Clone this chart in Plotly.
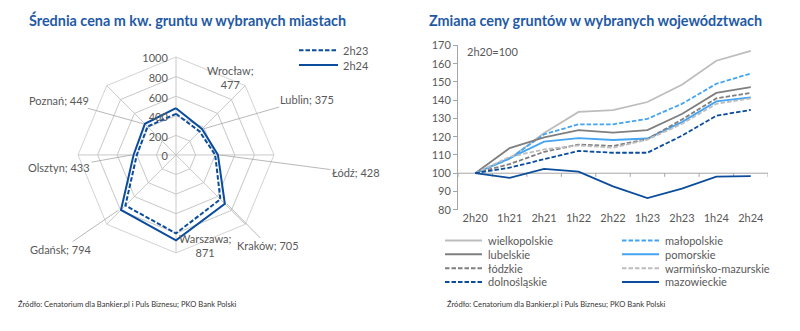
import math
import plotly.graph_objects as go

# ---------------- data ----------------
cities = ["Wrocław", "Lublin", "Łódź", "Kraków", "Warszawa", "Gdańsk", "Olsztyn", "Poznań"]
price_2h23 = [420, 340, 400, 640, 800, 730, 400, 410]
price_2h24 = [477, 375, 428, 705, 871, 794, 433, 449]
radial_ticks = [0, 200, 400, 600, 800, 1000]

periods = ["2h20", "1h21", "2h21", "1h22", "2h22", "1h23", "2h23", "1h24", "2h24"]
wielkopolskie = [100, 108, 122, 133.6, 134.5, 139, 148.5, 161.6, 167]
malopolskie = [100, 108, 121.3, 126.8, 126.8, 129.8, 138, 149, 154.6]
lubelskie = [100, 113.8, 119.6, 123.6, 122.2, 123.6, 132.4, 144, 147.2]
pomorskie = [100, 108.3, 117.3, 119.2, 118.2, 119, 128, 139.3, 141.5]
lodzkie = [100, 105, 111.7, 115.7, 114.9, 118.7, 129.4, 141, 144]
warminsko = [100, 109, 113, 115.2, 114, 118.4, 127, 138, 141]
dolnoslaskie = [100, 103, 107.7, 112.2, 111.2, 111.2, 120.5, 131.5, 134.7]
mazowieckie = [100, 97.4, 102.4, 100.9, 92.8, 86.4, 91.6, 98.1, 98.4]
y_ticks = [80, 90, 100, 110, 120, 130, 140, 150, 160, 170]

# ---------------- style ----------------
W, H = 800, 331
FONT = "Lato"
TXT = "#595959"
TITLE_C = "#1f5aa6"
DARKBLUE = "#0b4d9c"
LIGHTBLUE = "#44a4f2"
LGRAY = "#bdbdbd"
DGRAY = "#7f7f7f"
GRID = "#c8c8c8"
DASH = "4.5px,2px"

series = [
    ("wielkopolskie", wielkopolskie, LGRAY, "solid"),
    ("małopolskie", malopolskie, LIGHTBLUE, DASH),
    ("lubelskie", lubelskie, DGRAY, "solid"),
    ("pomorskie", pomorskie, LIGHTBLUE, "solid"),
    ("łódzkie", lodzkie, DGRAY, DASH),
    ("warmińsko-mazurskie", warminsko, LGRAY, DASH),
    ("dolnośląskie", dolnoslaskie, DARKBLUE, DASH),
    ("mazowieckie", mazowieckie, DARKBLUE, "solid"),
]

fig = go.Figure()

# ---------------- radar ----------------
radar_series = [("2h23", price_2h23, DASH), ("2h24", price_2h24, "solid")]
for name, vals, dash in radar_series:
    fig.add_trace(go.Scatterpolar(
        r=vals + vals[:1], theta=cities + cities[:1], mode="lines", name=name,
        line=dict(color=DARKBLUE, width=2, dash=dash), showlegend=False,
        subplot="polar"))

CX, CY, R = 176, 154, 102  # polar centre / radius in px
fig.update_layout(polar=dict(
    domain=dict(x=[(CX - R) / W, (CX + R) / W], y=[1 - (CY + R) / H, 1 - (CY - R) / H]),
    bgcolor="rgba(0,0,0,0)",
    gridshape="linear",
    radialaxis=dict(range=[0, 1000], tickvals=radial_ticks, angle=90, side="counterclockwise",
                    showline=False, gridcolor=GRID, gridwidth=0.8, ticks="",
                    tickfont=dict(family=FONT, size=11, color=TXT)),
    angularaxis=dict(direction="clockwise", rotation=90, showticklabels=False, ticks="",
                     showline=True, linecolor=GRID, linewidth=0.8,
                     gridcolor=GRID, gridwidth=0.8),
))

# radar data labels (with leader lines toward the 2h24 points)
label_pos = {  # label text centre in px
    "Wrocław": (205, 57, False), "Lublin": (307, 97, True), "Łódź": (356, 172, True),
    "Kraków": (268, 247, True), "Warszawa": (177, 264, False), "Gdańsk": (61, 251, True),
    "Olsztyn": (59, 167, True), "Poznań": (59, 98, True),
}
annotations = []
shapes = []
for i, (c, v) in enumerate(zip(cities, price_2h24)):
    th = math.radians(i * 360 / len(cities))
    px = CX + v / 1000 * R * math.sin(th)
    py = CY - v / 1000 * R * math.cos(th)
    lx, ly, arrow = label_pos[c]
    text = f"{c};<br>{v}" if not arrow else f"{c}; {v}"
    if arrow:
        annotations.append(dict(x=px / W, y=1 - py / H, xref="paper", yref="paper",
                                text=text, showarrow=True, ax=lx - px, ay=ly - py,
                                arrowhead=0, arrowwidth=0.8, arrowcolor="#a6a6a6",
                                standoff=0, font=dict(family=FONT, size=11, color=TXT)))
    else:
        annotations.append(dict(x=lx / W, y=1 - ly / H, xref="paper", yref="paper",
                                text=text, showarrow=False, align="center",
                                font=dict(family=FONT, size=11, color=TXT)))

# radar legend
for k, (name, vals, dash) in enumerate(radar_series):
    yy = 45 + k * 15.5
    shapes.append(dict(type="line", xref="paper", yref="paper", x0=299 / W, x1=338 / W,
                       y0=1 - yy / H, y1=1 - yy / H, line=dict(color=DARKBLUE, width=2, dash=dash)))
    annotations.append(dict(x=341 / W, y=1 - yy / H, xref="paper", yref="paper", text=name,
                            showarrow=False, xanchor="left", yanchor="middle",
                            font=dict(family=FONT, size=11, color=TXT)))

# ---------------- line chart ----------------
for name, vals, color, dash in series:
    fig.add_trace(go.Scatter(x=periods, y=vals, mode="lines", name=name,
                             line=dict(color=color, width=1.8, dash=dash),
                             showlegend=False, xaxis="x", yaxis="y"))

fig.update_layout(
    xaxis=dict(domain=[458 / W, 768 / W], type="category", categoryarray=periods,
               range=[-0.5, len(periods) - 0.5], showline=False, showgrid=False,
               ticks="", tickfont=dict(family=FONT, size=11, color=TXT), zeroline=False,
               fixedrange=True),
    yaxis=dict(domain=[1 - 211 / H, 1 - 40 / H], range=[80, 170], tickvals=y_ticks,
               showgrid=False, showline=True, linecolor="#a6a6a6", linewidth=1,
               ticks="outside", ticklen=4, tickcolor="#a6a6a6", zeroline=False,
               tickfont=dict(family=FONT, size=11, color=TXT)),
)

# baseline at 100 with tick marks at category boundaries
shapes.append(dict(type="line", xref="x", yref="y", x0=-0.5, x1=len(periods) - 0.5,
                   y0=100, y1=100, line=dict(color="#a6a6a6", width=1), layer="below"))
for i in range(len(periods) + 1):
    shapes.append(dict(type="line", xref="x", yref="y", x0=i - 0.5, x1=i - 0.5,
                       y0=100, y1=98, line=dict(color="#a6a6a6", width=1), layer="below"))

annotations.append(dict(x=465 / W, y=1 - 46 / H, xref="paper", yref="paper", text="2h20=100",
                        showarrow=False, xanchor="left", yanchor="middle",
                        font=dict(family=FONT, size=11, color=TXT)))

# line chart legend (2 columns)
for k, (name, vals, color, dash) in enumerate(series):
    row, col = divmod(k, 2)
    yy = 243 + row * 14.4
    x0 = 445 if col == 0 else 622
    shapes.append(dict(type="line", xref="paper", yref="paper", x0=x0 / W, x1=(x0 + 37) / W,
                       y0=1 - yy / H, y1=1 - yy / H, line=dict(color=color, width=2, dash=dash)))
    annotations.append(dict(x=(x0 + 41) / W, y=1 - yy / H, xref="paper", yref="paper",
                            text=name, showarrow=False, xanchor="left", yanchor="middle",
                            font=dict(family=FONT, size=11, color=TXT)))

# titles and sources
for x, text in [(27, "Średnia cena m kw. gruntu w wybranych miastach"),
                (427, "Zmiana ceny gruntów w wybranych województwach")]:
    annotations.append(dict(x=x / W, y=1 - 14 / H, xref="paper", yref="paper",
                            text=f"<b>{text}</b>", showarrow=False, xanchor="left",
                            yanchor="middle", font=dict(family=FONT, size=14.4, color=TITLE_C)))
for x in [16, 445]:
    annotations.append(dict(x=x / W, y=1 - 309 / H, xref="paper", yref="paper",
                            text="Źródło: Cenatorium dla Bankier.pl i Puls Biznesu; PKO Bank Polski",
                            showarrow=False, xanchor="left", yanchor="middle",
                            font=dict(family=FONT, size=7.6, color="#333333")))

fig.update_layout(width=W, height=H, margin=dict(l=0, r=0, t=0, b=0),
                  paper_bgcolor="white", plot_bgcolor="white", showlegend=False,
                  annotations=annotations, shapes=shapes)

fig.write_html("out.html")
